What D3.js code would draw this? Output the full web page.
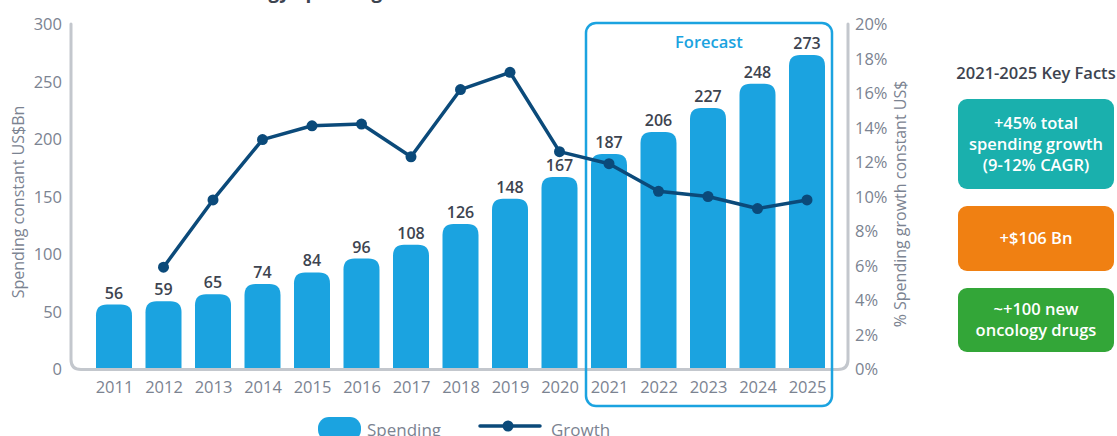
<!DOCTYPE html>
<html><head><meta charset="utf-8">
<script src="https://cdn.jsdelivr.net/npm/d3@7/dist/d3.min.js"></script>
<style>
html,body{margin:0;padding:0;background:#fff;overflow:hidden}
svg{display:block;font-family:"Open Sans",sans-serif}
</style></head>
<body><svg id="c" width="1117" height="436"></svg>
<script>
const years = ["2011","2012","2013","2014","2015","2016","2017","2018","2019","2020","2021","2022","2023","2024","2025"];
const spending = [56,59,65,74,84,96,108,126,148,167,187,206,227,248,273];
const growth = [null,5.9,9.8,13.3,14.1,14.2,12.3,16.2,17.2,12.6,11.9,10.3,10.0,9.3,9.8];
const leftTicks = [0,50,100,150,200,250,300];
const rightTicks = [0,2,4,6,8,10,12,14,16,18,20];
const forecastYears = ["2021","2025"];
const facts = [
  {lines:["+45% total","spending growth","(9-12% CAGR)"], color:"#1ab0ad"},
  {lines:["+$106 Bn"], color:"#f08012"},
  {lines:["~+100 new","oncology drugs"], color:"#33a638"}
];

const svg = d3.select("#c");
const barColor = "#1ba3e0", lineColor = "#0b4a7a", axisGray = "#c3c7cd", tickGray = "#7b8391", dark = "#3d4450";
const fs = 16.5;

const x = d3.scalePoint().domain(years).range([114, 807]);
const bw = 36;
const y = d3.scaleLinear().domain([0,300]).range([369,24]);
const y2 = d3.scaleLinear().domain([0,20]).range([369,24]);

// title (cut off at top)
const title = svg.append("text").attr("y",-2).attr("font-size",19).attr("font-weight",700).attr("fill",dark)
  .text("Global Oncology Spending and Growth");
const tn = title.node();
const idx = "Global Oncology ".length;
title.attr("x", 295 - tn.getSubStringLength(0, idx));

// axis frame
const X0 = 71, X1 = 848, Yb = 369.5, Yt = 24, r = 10;
svg.append("path")
  .attr("d", `M${X0},${Yt} V${Yb-r} Q${X0},${Yb} ${X0+r},${Yb} H${X1-r} Q${X1},${Yb} ${X1},${Yb-r} V${Yt}`)
  .attr("fill","none").attr("stroke",axisGray).attr("stroke-width",3).attr("stroke-linecap","round");

// left axis
const la = svg.append("g").attr("transform","translate(62,0)")
  .call(d3.axisLeft(y).tickValues(leftTicks).tickSize(0).tickPadding(0));
la.select(".domain").remove();
la.selectAll("text").attr("font-size",fs).attr("fill",tickGray).attr("font-family","Open Sans").attr("dy","0.35em");

// right axis
const ra = svg.append("g").attr("transform","translate(855,0)")
  .call(d3.axisRight(y2).tickValues(rightTicks).tickFormat(d=>d+"%").tickSize(0).tickPadding(0));
ra.select(".domain").remove();
ra.selectAll("text").attr("font-size",fs).attr("fill",tickGray).attr("font-family","Open Sans").attr("dy","0.35em");

// x axis
const xa = svg.append("g").attr("transform","translate(0,381)")
  .call(d3.axisBottom(x).tickSize(0).tickPadding(0));
xa.select(".domain").remove();
xa.selectAll("text").attr("font-size",fs).attr("fill",tickGray).attr("font-family","Open Sans").attr("dy","0.71em");

// axis titles
svg.append("text").attr("transform","translate(24,202) rotate(-90)").attr("text-anchor","middle")
  .attr("font-size",16).attr("fill",tickGray).text("Spending constant US$Bn");
svg.append("text").attr("transform","translate(906,204) rotate(-90)").attr("text-anchor","middle")
  .attr("font-size",16).attr("fill",tickGray).text("% Spending growth constant US$");

// forecast box
const fx0 = x(forecastYears[0]) - bw/2 - 5, fx1 = x(forecastYears[1]) + bw/2 + 7;
svg.append("rect").attr("x",fx0).attr("y",23).attr("width",fx1-fx0).attr("height",383)
  .attr("rx",10).attr("fill","none").attr("stroke",barColor).attr("stroke-width",2.5);
svg.append("text").attr("x",(fx0+fx1)/2).attr("y",48).attr("text-anchor","middle")
  .attr("font-size",fs).attr("font-weight",600).attr("fill",barColor).text("Forecast");

// bars
function barPath(cx, top, bottom, w, rr){
  const l = cx - w/2, rgt = cx + w/2;
  return `M${l},${bottom} V${top+rr} Q${l},${top} ${l+rr},${top} H${rgt-rr} Q${rgt},${top} ${rgt},${top+rr} V${bottom} Z`;
}
svg.append("g").selectAll("path").data(years).join("path")
  .attr("d",(d,i)=>barPath(x(d), y(spending[i]), 368, bw, 11))
  .attr("fill",barColor);
svg.append("g").selectAll("text").data(years).join("text")
  .attr("x",d=>x(d)).attr("y",(d,i)=>y(spending[i])-6).attr("text-anchor","middle")
  .attr("font-size",16).attr("font-weight",600).attr("fill",dark).text((d,i)=>spending[i]);

// growth line
const pts = years.map((d,i)=>({d, v:growth[i]})).filter(p=>p.v!=null);
svg.append("path").datum(pts)
  .attr("d", d3.line().x(p=>x(p.d)).y(p=>y2(p.v)))
  .attr("fill","none").attr("stroke",lineColor).attr("stroke-width",3.5).attr("stroke-linejoin","round");
svg.append("g").selectAll("circle").data(pts).join("circle")
  .attr("cx",p=>x(p.d)).attr("cy",p=>y2(p.v)).attr("r",5.5).attr("fill",lineColor);

// legend
svg.append("rect").attr("x",318).attr("y",417).attr("width",43).attr("height",24).attr("rx",11).attr("fill",barColor);
svg.append("text").attr("x",367).attr("y",436).attr("font-size",17).attr("fill",tickGray).text("Spending");
svg.append("line").attr("x1",480).attr("x2",540).attr("y1",426).attr("y2",426).attr("stroke",lineColor).attr("stroke-width",3.5).attr("stroke-linecap","round");
svg.append("circle").attr("cx",508).attr("cy",426).attr("r",5.5).attr("fill",lineColor);
svg.append("text").attr("x",551).attr("y",436).attr("font-size",17).attr("fill",tickGray).text("Growth");

// key facts
svg.append("text").attr("x",1036).attr("y",79).attr("text-anchor","middle")
  .attr("font-size",fs).attr("font-weight",600).attr("fill",dark).text("2021-2025 Key Facts");
const boxes = [{y:99,h:90},{y:206,h:65},{y:288,h:64}];
facts.forEach((f,i)=>{
  const b = boxes[i];
  svg.append("rect").attr("x",958).attr("y",b.y).attr("width",156).attr("height",b.h).attr("rx",9).attr("fill",f.color);
  const lh = 21, n = f.lines.length;
  const cy = b.y + b.h/2;
  f.lines.forEach((t,j)=>{
    svg.append("text").attr("x",1036).attr("y", cy + (j-(n-1)/2)*lh).attr("dy","0.35em")
      .attr("text-anchor","middle").attr("font-size",16.5).attr("font-weight",600).attr("fill","#fff").text(t);
  });
});
</script></body></html>
